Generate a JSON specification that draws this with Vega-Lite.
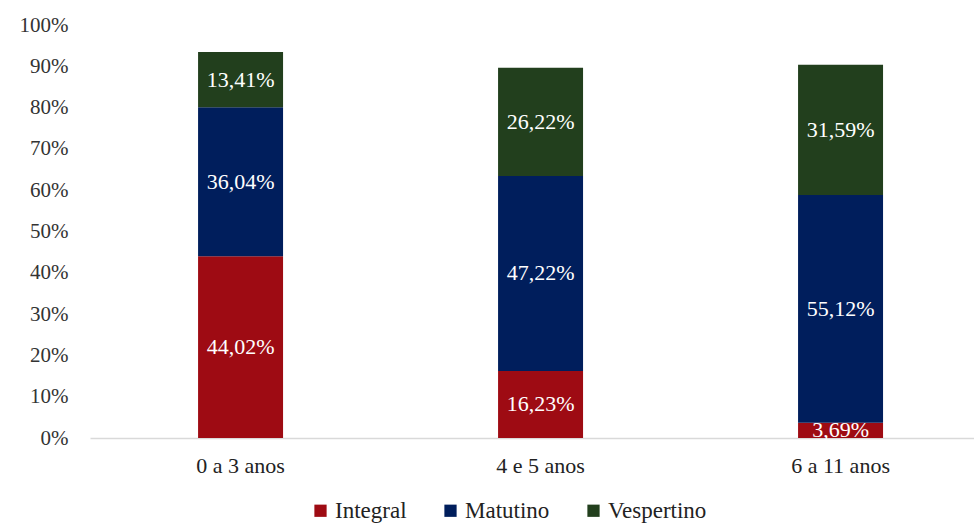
{
  "$schema": "https://vega.github.io/schema/vega-lite/v6.json",
  "autosize": "none",
  "width": 884,
  "height": 413,
  "padding": {"left": 90, "top": 25, "right": 0, "bottom": 85},
  "background": "white",
  "config": {
    "view": {"stroke": null},
    "font": "Times New Roman",
    "locale": {"number": {"decimal": ",", "thousands": ".", "grouping": [3], "currency": ["", ""]}}
  },
  "data": {
    "values": [
      {"faixa": "0 a 3 anos", "turno": "Integral", "ordem": 1, "valor": 0.4402},
      {"faixa": "0 a 3 anos", "turno": "Matutino", "ordem": 2, "valor": 0.3604},
      {"faixa": "0 a 3 anos", "turno": "Vespertino", "ordem": 3, "valor": 0.1341},
      {"faixa": "4 e 5 anos", "turno": "Integral", "ordem": 1, "valor": 0.1623},
      {"faixa": "4 e 5 anos", "turno": "Matutino", "ordem": 2, "valor": 0.4722},
      {"faixa": "4 e 5 anos", "turno": "Vespertino", "ordem": 3, "valor": 0.2622},
      {"faixa": "6 a 11 anos", "turno": "Integral", "ordem": 1, "valor": 0.0369},
      {"faixa": "6 a 11 anos", "turno": "Matutino", "ordem": 2, "valor": 0.5512},
      {"faixa": "6 a 11 anos", "turno": "Vespertino", "ordem": 3, "valor": 0.3159}
    ]
  },
  "encoding": {
    "x": {
      "field": "faixa", "type": "nominal", "sort": null,
      "scale": {"paddingInner": 0.7167, "paddingOuter": 0.3317, "align": 0.543},
      "axis": {"title": null, "labelAngle": 0, "ticks": false, "domainColor": "#d9d9d9", "domainWidth": 1.5, "labelFontSize": 22, "labelColor": "#222222", "labelPadding": 17, "labelFont": "Times New Roman"}
    },
    "y": {
      "field": "valor", "type": "quantitative", "stack": "zero",
      "scale": {"domain": [0, 1], "nice": false},
      "axis": {"title": null, "format": ".0%", "values": [0,0.1,0.2,0.3,0.4,0.5,0.6,0.7,0.8,0.9,1], "grid": false, "domain": false, "ticks": false, "labelFontSize": 21, "labelColor": "#333333", "labelPadding": 22, "labelFont": "Times New Roman"}
    },
    "order": {"field": "ordem", "type": "quantitative"}
  },
  "layer": [
    {
      "mark": {"type": "bar"},
      "encoding": {
        "color": {
          "field": "turno", "type": "nominal",
          "scale": {"domain": ["Integral", "Matutino", "Vespertino"], "range": ["#9e0b13", "#001e5c", "#223f1d"]},
          "legend": {"title": null, "orient": "none", "legendX": 219, "legendY": 474, "direction": "horizontal", "symbolType": "square", "symbolSize": 150, "symbolStrokeWidth": 0, "labelFontSize": 23, "labelFont": "Times New Roman", "labelColor": "#222222", "columnPadding": 32, "labelOffset": 3}
        }
      }
    },
    {
      "mark": {"type": "text", "color": "white", "fontSize": 22, "font": "Times New Roman"},
      "encoding": {
        "y": {"field": "valor", "type": "quantitative", "stack": "zero", "bandPosition": 0.5},
        "text": {"field": "valor", "type": "quantitative", "format": ".2%"}
      }
    }
  ]
}
